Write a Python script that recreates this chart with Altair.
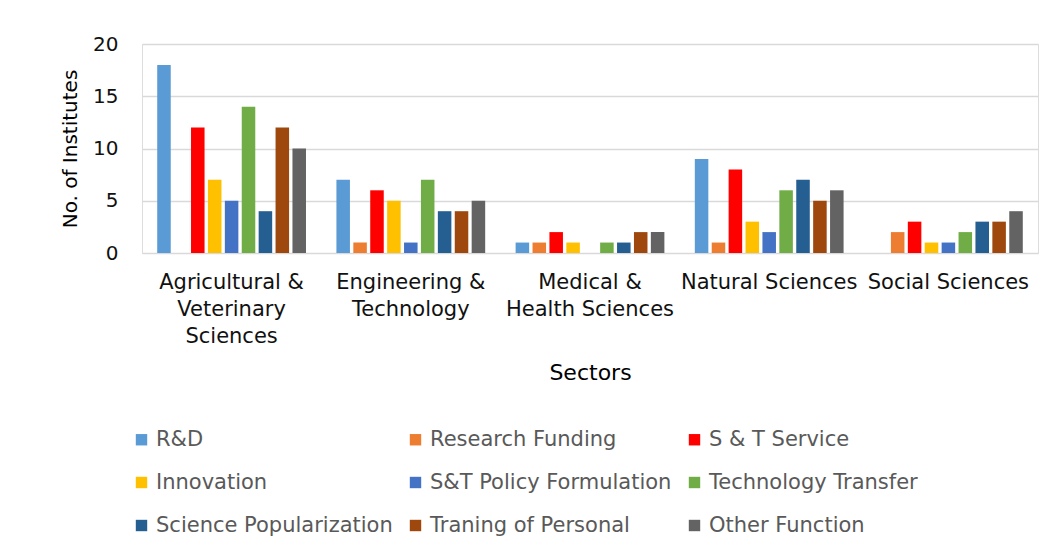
import altair as alt
import pandas as pd

sectors = ["Agricultural &|Veterinary|Sciences", "Engineering &|Technology",
           "Medical &|Health Sciences", "Natural Sciences", "Social Sciences"]
functions = ["R&D", "Research Funding", "S & T Service", "Innovation",
             "S&T Policy Formulation", "Technology Transfer",
             "Science Popularization", "Traning of Personal", "Other Function"]
rd = [18, 7, 1, 9, 0]
research_funding = [0, 1, 1, 1, 2]
st_service = [12, 6, 2, 8, 3]
innovation = [7, 5, 1, 3, 1]
policy = [5, 1, 0, 2, 1]
tech_transfer = [14, 7, 1, 6, 2]
sci_pop = [4, 4, 1, 7, 3]
training = [12, 4, 2, 5, 3]
other = [10, 5, 2, 6, 4]
colors = ["#5B9BD5", "#ED7D31", "#FF0000", "#FFC000", "#4472C4",
          "#70AD47", "#255E91", "#9E480E", "#636363"]

series = [rd, research_funding, st_service, innovation, policy,
          tech_transfer, sci_pop, training, other]
rows = []
for f, vals in zip(functions, series):
    for s, v in zip(sectors, vals):
        rows.append({"Sector": s, "Function": f, "Value": v})
df = pd.DataFrame(rows)

FONT = "DejaVu Sans"

chart = alt.Chart(df).mark_bar().encode(
    x=alt.X("Sector:N", sort=sectors,
            scale=alt.Scale(paddingInner=0, paddingOuter=0),
            axis=alt.Axis(title="Sectors", labelAngle=0,
                          labelExpr="split(datum.label, '|')",
                          labelFontSize=21, labelColor="#111111",
                          labelLineHeight=27, labelPadding=18,
                          labelFont=FONT, titleFont=FONT, labelLimit=300,
                          titleFontSize=22, titleFontWeight="normal",
                          titleColor="#000000", titlePadding=16,
                          domain=False, ticks=False, grid=False)),
    xOffset=alt.XOffset("Function:N", sort=functions,
                        scale=alt.Scale(paddingInner=0.2, paddingOuter=0.9)),
    y=alt.Y("Value:Q", scale=alt.Scale(domain=[0, 20]),
            axis=alt.Axis(title="No. of Institutes", values=[0, 5, 10, 15, 20],
                          labelFontSize=20, labelColor="#111111",
                          labelFont=FONT, titleFont=FONT, labelPadding=24,
                          titleFontSize=20, titleFontWeight="normal",
                          titleColor="#000000", titlePadding=12,
                          domain=False, ticks=False, gridColor="#d9d9d9",
                          gridWidth=1.5)),
    color=alt.Color("Function:N", sort=functions,
                    scale=alt.Scale(domain=functions, range=colors),
                    legend=alt.Legend(title=None, orient="none",
                                      legendX=-11, legendY=385,
                                      columns=3, direction="horizontal",
                                      symbolType="square", symbolSize=130,
                                      symbolStrokeWidth=0,
                                      labelFont=FONT, labelFontSize=21,
                                      labelColor="#595959", labelOffset=4,
                                      labelLimit=400,
                                      rowPadding=21, columnPadding=12,
                                      padding=0)),
).properties(
    width=896, height=209,
    padding={"left": 52, "top": 26, "right": 5, "bottom": 5},
).configure_view(stroke=None).configure(background="white")

chart.save("out.html", embed_options={"renderer": "svg", "actions": False})
